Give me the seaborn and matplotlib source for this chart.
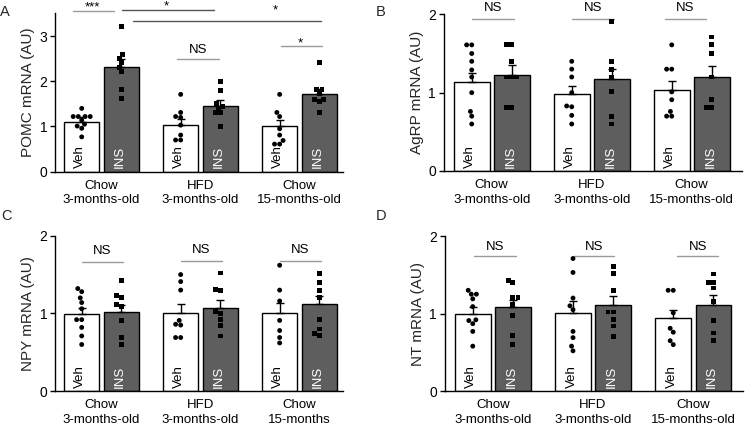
import numpy as np
import pandas as pd
import matplotlib
matplotlib.use("Agg")
import matplotlib.pyplot as plt
import seaborn as sns

groups = ["Chow\n3-months-old", "HFD\n3-months-old", "Chow\n15-months-old"]
groups_npy = ["Chow\n3-months-old", "HFD\n3-months-old", "Chow\n15-months"]
treatments = ["Veh", "INS"]

# A - POMC
pomc_veh_mean = [1.11, 1.04, 1.00]
pomc_ins_mean = [2.32, 1.45, 1.71]
pomc_veh_sem = [0.09, 0.12, 0.15]
pomc_ins_sem = [0.17, 0.13, 0.12]
pomc_veh_pts = [[1.40, 1.22, 1.22, 1.22, 1.22, 1.14, 1.05, 1.01, 0.96, 0.77],
                [1.71, 1.31, 1.22, 1.20, 1.03, 0.81, 0.70, 0.70],
                [1.71, 1.31, 1.22, 0.95, 0.81, 0.69, 0.61, 0.61]]
pomc_ins_pts = [[3.21, 2.60, 2.51, 2.41, 2.31, 2.21, 1.81, 1.61],
                [2.00, 1.80, 1.50, 1.45, 1.40, 1.30, 1.30, 1.00],
                [2.41, 1.81, 1.81, 1.72, 1.60, 1.60, 1.55, 1.30]]

# B - AgRP
agrp_veh_mean = [1.13, 0.98, 1.03]
agrp_ins_mean = [1.23, 1.17, 1.20]
agrp_veh_sem = [0.12, 0.11, 0.12]
agrp_ins_sem = [0.12, 0.13, 0.14]
agrp_veh_pts = [[1.61, 1.61, 1.50, 1.40, 1.29, 1.20, 1.00, 0.76, 0.70, 0.60],
                [1.40, 1.30, 1.20, 1.00, 0.83, 0.82, 0.71, 0.60],
                [1.61, 1.30, 1.30, 1.01, 0.91, 0.76, 0.70, 0.70]]
agrp_ins_pts = [[1.61, 1.61, 1.40, 1.20, 1.20, 1.20, 0.81, 0.81],
                [1.91, 1.40, 1.30, 1.20, 1.01, 0.70, 0.60],
                [1.71, 1.61, 1.50, 1.20, 0.91, 0.81, 0.81]]

# C - NPY
npy_veh_mean = [0.99, 1.01, 1.00]
npy_ins_mean = [1.02, 1.07, 1.12]
npy_veh_sem = [0.08, 0.11, 0.13]
npy_ins_sem = [0.09, 0.10, 0.11]
npy_veh_pts = [[1.32, 1.28, 1.20, 1.14, 1.06, 0.92, 0.92, 0.82, 0.71, 0.60],
               [1.50, 1.41, 1.30, 0.91, 0.86, 0.85, 0.69, 0.69],
               [1.62, 1.30, 1.16, 0.91, 0.78, 0.69, 0.62]]
npy_ins_pts = [[1.42, 1.23, 1.20, 1.12, 1.09, 0.91, 0.69, 0.60],
               [1.52, 1.31, 1.30, 1.02, 1.00, 0.92, 0.84, 0.71],
               [1.51, 1.40, 1.30, 1.20, 0.92, 0.80, 0.74, 0.72]]

# D - NT
nt_veh_mean = [1.00, 1.01, 0.94]
nt_ins_mean = [1.08, 1.11, 1.11]
nt_veh_sem = [0.09, 0.15, 0.11]
nt_ins_sem = [0.09, 0.12, 0.13]
nt_veh_pts = [[1.30, 1.25, 1.25, 1.19, 1.09, 0.92, 0.91, 0.87, 0.77, 0.58],
              [1.71, 1.53, 1.20, 1.10, 1.05, 0.77, 0.69, 0.58, 0.52],
              [1.30, 1.30, 1.01, 0.81, 0.76, 0.65, 0.60]]
nt_ins_pts = [[1.43, 1.40, 1.21, 1.21, 1.12, 0.98, 0.72, 0.60],
              [1.61, 1.52, 1.30, 1.02, 1.02, 0.92, 0.84, 0.71],
              [1.51, 1.40, 1.40, 1.33, 1.16, 0.91, 0.75, 0.65]]

sns.set_style("ticks")
plt.rcParams["font.family"] = ["Liberation Sans", "DejaVu Sans"]
FS = 9.5
bar_colors = {"Veh": "white", "INS": "#5e5e5e"}
dot_colors = {"Veh": "black", "INS": "black"}
LIGHT = "#9a9a9a"
DARK = "#555555"


def draw_panel(ax, cats, veh_mean, ins_mean, veh_sem, ins_sem, veh_pts, ins_pts,
               ylabel, ymax, xlim, sigs):
    bars = pd.DataFrame({
        "group": cats * 2,
        "treatment": ["Veh"] * 3 + ["INS"] * 3,
        "value": veh_mean + ins_mean,
    })
    sns.barplot(data=bars, x="group", y="value", hue="treatment", order=cats,
                hue_order=treatments, palette=bar_colors, edgecolor="black",
                linewidth=1, width=0.8, gap=0.11, errorbar=None, legend=False,
                ax=ax, zorder=1)

    # error bars (upper SEM only) and labels inside the bars
    for cont, means, sems, lab in zip(ax.containers, [veh_mean, ins_mean],
                                      [veh_sem, ins_sem], treatments):
        xs = [b.get_x() + b.get_width() / 2 for b in cont]
        ax.errorbar(xs, means, yerr=[np.zeros(3), sems], fmt="none",
                    ecolor="black", elinewidth=1, capsize=3.2, capthick=1,
                    zorder=3)
        for x in xs:
            ax.annotate(lab, xy=(x, 0), xytext=(-1, 2.5), textcoords="offset points",
                        rotation=90, ha="center", va="bottom", fontsize=FS,
                        color="black" if lab == "Veh" else "white", zorder=5)

    for lab, pts, mk in [("Veh", veh_pts, "o"), ("INS", ins_pts, "s")]:
        rows = [(c, lab, v) for c, vals in zip(cats, pts) for v in vals]
        df = pd.DataFrame(rows, columns=["group", "treatment", "value"])
        sns.swarmplot(data=df, x="group", y="value", hue="treatment", order=cats,
                      hue_order=treatments, dodge=True, palette=dot_colors,
                      marker=mk, size=3.5, legend=False, ax=ax, zorder=4,
                      warn_thresh=1)

    for x1, x2, y, txt, tx, ty, col in sigs:
        ax.plot([x1, x2], [y, y], color=col, lw=1, clip_on=False, zorder=2)
        ax.text(tx, ty, txt, ha="center", va="baseline", fontsize=FS,
                color="black", clip_on=False)

    ax.set_xlim(*xlim)
    ax.set_ylim(0, ymax)
    ax.set_yticks(range(int(ymax) + 1))
    ax.set_xlabel("")
    ax.set_ylabel(ylabel, fontsize=11)
    width_px = ax.get_position().width * 745
    ax.yaxis.set_label_coords(-20 / width_px, 0.5)
    sns.despine(ax=ax)
    for s in ["left", "bottom"]:
        ax.spines[s].set_linewidth(1)
        ax.spines[s].set_color("black")
    ax.tick_params(axis="y", direction="out", length=3.5, width=1, pad=2,
                   labelsize=10, colors="black")
    ax.tick_params(axis="x", length=0, pad=6, labelsize=FS, colors="black")
    ax.set_xticks(range(3))
    ax.set_xticklabels(cats, linespacing=1.25)


fig = plt.figure(figsize=(7.45, 4.26), dpi=100)
axA = fig.add_axes([0.0738, 0.597, 0.3866, 0.3714])
axB = fig.add_axes([0.5956, 0.5986, 0.400, 0.3678])
axC = fig.add_axes([0.0738, 0.0818, 0.3866, 0.3649])
axD = fig.add_axes([0.5969, 0.0818, 0.401, 0.3642])

sigs_a = [
    (-0.29, 0.13, 3.55, "***", -0.09, 3.56, LIGHT),
    (0.21, 1.14, 3.58, "*", 0.65, 3.58, DARK),
    (0.32, 2.22, 3.33, "*", 1.76, 3.50, DARK),
    (0.76, 1.19, 2.49, "NS", 0.975, 2.63, LIGHT),
    (1.81, 2.23, 2.77, "*", 2.01, 2.76, LIGHT),
]
sigs_b = [
    (-0.20, 0.22, 1.94, "NS", 0.01, 2.04, LIGHT),
    (0.80, 1.22, 1.94, "NS", 1.01, 2.04, LIGHT),
    (1.73, 2.14, 1.94, "NS", 1.935, 2.04, LIGHT),
]
sigs_c = [
    (-0.20, 0.22, 1.66, "NS", 0.01, 1.76, LIGHT),
    (0.80, 1.22, 1.68, "NS", 1.01, 1.78, LIGHT),
    (1.80, 2.22, 1.68, "NS", 2.01, 1.78, LIGHT),
]
sigs_d = [
    (-0.19, 0.23, 1.74, "NS", 0.02, 1.82, LIGHT),
    (0.81, 1.21, 1.74, "NS", 1.01, 1.82, LIGHT),
    (1.84, 2.25, 1.74, "NS", 2.045, 1.82, LIGHT),
]

draw_panel(axA, groups, pomc_veh_mean, pomc_ins_mean, pomc_veh_sem, pomc_ins_sem,
           pomc_veh_pts, pomc_ins_pts, "POMC mRNA (AU)", 3.5, (-0.47, 2.44), sigs_a)
draw_panel(axB, groups, agrp_veh_mean, agrp_ins_mean, agrp_veh_sem, agrp_ins_sem,
           agrp_veh_pts, agrp_ins_pts, "AgRP mRNA (AU)", 2, (-0.48, 2.5), sigs_b)
draw_panel(axC, groups_npy, npy_veh_mean, npy_ins_mean, npy_veh_sem, npy_ins_sem,
           npy_veh_pts, npy_ins_pts, "NPY mRNA (AU)", 2, (-0.47, 2.44), sigs_c)
draw_panel(axD, groups, nt_veh_mean, nt_ins_mean, nt_veh_sem, nt_ins_sem,
           nt_veh_pts, nt_ins_pts, "NT mRNA (AU)", 2, (-0.48, 2.5), sigs_d)

for lab, x, y in [("A", 5, 12), ("B", 381, 12), ("C", 6, 216), ("D", 381, 216)]:
    fig.text(x / 745, 1 - y / 426, lab, fontsize=10.5, ha="center", va="center")

fig.savefig("out.png", dpi=100)
